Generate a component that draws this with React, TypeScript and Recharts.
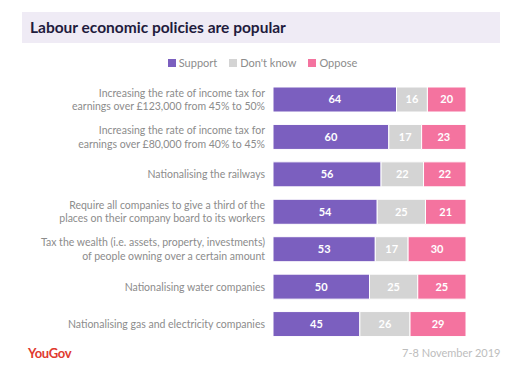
import { BarChart, Bar, XAxis, YAxis, LabelList } from "recharts";

const categories = [
  "Increasing the rate of income tax for\nearnings over £123,000 from 45% to 50%",
  "Increasing the rate of income tax for\nearnings over £80,000 from 40% to 45%",
  "Nationalising the railways",
  "Require all companies to give a third of the\nplaces on their company board to its workers",
  "Tax the wealth (i.e. assets, property, investments)\nof people owning over a certain amount",
  "Nationalising water companies",
  "Nationalising gas and electricity companies",
];
const support = [64, 60, 56, 54, 53, 50, 45];
const dontKnow = [16, 17, 22, 25, 17, 25, 26];
const oppose = [20, 23, 22, 21, 30, 25, 29];

const seriesNames = ["Support", "Don't know", "Oppose"];
const colors = ["#7b5fbf", "#d4d4d4", "#f4739f"];

const data = categories.map((c, i) => ({
  name: c,
  support: support[i],
  dontKnow: dontKnow[i],
  oppose: oppose[i],
}));

const FONT = "Lato, 'Open Sans', sans-serif";

const CategoryTick = ({ x, y, payload }: any) => {
  const lines = String(payload.value).split("\n");
  const lh = 13.5;
  const start = y - ((lines.length - 1) * lh) / 2;
  return (
    <text x={x} y={start} textAnchor="end" fill="#8c8c8c" fontSize={10.5} fontFamily={FONT}>
      {lines.map((l: string, i: number) => (
        <tspan key={i} x={x} y={start + i * lh} dy="0.35em">
          {l}
        </tspan>
      ))}
    </text>
  );
};

export default function App() {
  return (
    <div style={{ position: "absolute", left: 0, top: 0, width: 525, height: 370, background: "#fff", fontFamily: FONT }}>
      <div
        style={{
          position: "absolute",
          left: 22,
          top: 12,
          width: 478,
          height: 31,
          background: "#efebf5",
          color: "#1f1b3d",
          fontWeight: 700,
          fontSize: 15.5,
          lineHeight: "31px",
          paddingLeft: 8,
          boxSizing: "border-box",
        }}
      >
        Labour economic policies are popular
      </div>
      <div
        style={{
          position: "absolute",
          top: 56,
          left: 0,
          width: 525,
          display: "flex",
          justifyContent: "center",
          gap: 12,
          fontSize: 11,
          color: "#8c8c8c",
        }}
      >
        {seriesNames.map((n, i) => (
          <div key={n} style={{ display: "flex", alignItems: "center" }}>
            <span style={{ display: "inline-block", width: 8, height: 8, background: colors[i], marginRight: 3 }} />
            {n}
          </div>
        ))}
      </div>
      <BarChart
        width={525}
        height={370}
        data={data}
        layout="vertical"
        margin={{ top: 81, right: 59, bottom: 27, left: 13 }}
        barSize={25}
        style={{ position: "absolute", left: 0, top: 0 }}
      >
        <XAxis type="number" domain={[0, 100]} hide />
        <YAxis
          type="category"
          dataKey="name"
          width={260}
          axisLine={false}
          tickLine={false}
          tickSize={0}
          tickMargin={8}
          interval={0}
          tick={<CategoryTick />}
        />
        {["support", "dontKnow", "oppose"].map((k, i) => (
          <Bar key={k} dataKey={k} name={seriesNames[i]} stackId="a" fill={colors[i]} stroke="#fff" strokeWidth={1} isAnimationActive={false}>
            <LabelList dataKey={k} position="center" fill="#fff" fontSize={11} fontWeight={700} fontFamily={FONT} />
          </Bar>
        ))}
      </BarChart>
      <div style={{ position: "absolute", left: 28, top: 345, color: "#e03a2e", fontWeight: 700, fontSize: 13, letterSpacing: -0.3 }}>
        YouGov
      </div>
      <div style={{ position: "absolute", left: 402, top: 346, color: "#bdbdbd", fontSize: 11 }}>7-8 November 2019</div>
    </div>
  );
}
